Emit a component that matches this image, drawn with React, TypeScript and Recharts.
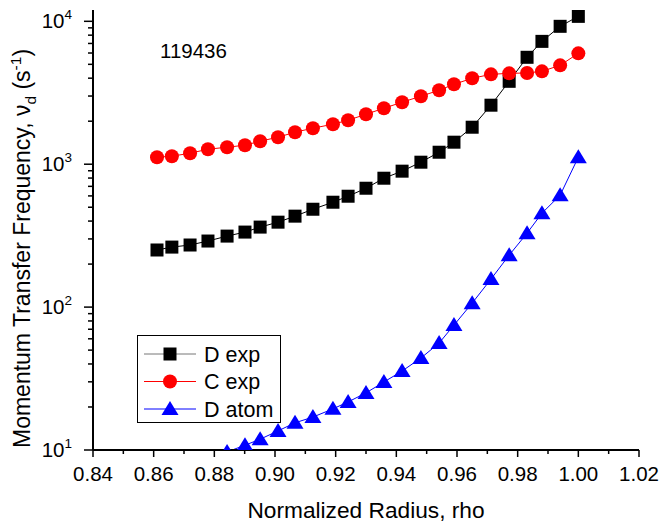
import { LineChart, Line, XAxis, YAxis, Customized } from "recharts";

const RHO = [
  0.8611, 0.866, 0.872, 0.8779, 0.8842, 0.8901, 0.8951, 0.901, 0.9066, 0.9125,
  0.9191, 0.9241, 0.93, 0.9359, 0.9419, 0.9481, 0.9541, 0.959, 0.965, 0.9712,
  0.9772, 0.9831, 0.988, 0.994, 1.0,
];

const D_EXP = [
  251, 263, 272, 290, 314, 335, 363, 393, 433, 484,
  542, 597, 679, 798, 894, 1033, 1213, 1426, 1815, 2588,
  3803, 5600, 7239, 9225, 10830,
];

const C_EXP = [
  1119, 1137, 1194, 1273, 1315, 1358, 1449, 1545, 1675, 1786,
  1905, 2031, 2237, 2465, 2715, 2991, 3293, 3625, 3992, 4256,
  4325, 4350, 4467, 4920, 5970,
];

const D_ATOM = [
  null, null, null, null, 9.7, 10.8, 11.9, 13.6, 15.5, 17.0,
  19.4, 21.7, 25.1, 29.9, 35.7, 44.0, 56.0, 74.8, 106.6, 157,
  231, 329, 454, 607, 1120,
];

const X_TICKS = [
  0.84, 0.85, 0.86, 0.87, 0.88, 0.89, 0.9, 0.91, 0.92, 0.93,
  0.94, 0.95, 0.96, 0.97, 0.98, 0.99, 1.0, 1.01, 1.02,
];
const Y_TICKS = [
  10, 20, 30, 40, 50, 60, 70, 80, 90,
  100, 200, 300, 400, 500, 600, 700, 800, 900,
  1000, 2000, 3000, 4000, 5000, 6000, 7000, 8000, 9000, 10000,
];

const SERIES = [
  { key: "dExp", label: "D exp", color: "#000000", legendLine: "#777777", shape: "square" },
  { key: "cExp", label: "C exp", color: "#ff0000", legendLine: "#ff0000", shape: "circle" },
  { key: "dAtom", label: "D atom", color: "#0000ff", legendLine: "#0000ff", shape: "triangle" },
] as const;

const data = RHO.map((rho, i) => ({
  rho,
  dExp: D_EXP[i],
  cExp: C_EXP[i],
  dAtom: D_ATOM[i],
}));

const FONT = "'Liberation Sans', Arial, sans-serif";

function Marker({ shape, cx, cy, color }: { shape: string; cx: number; cy: number; color: string }) {
  if (shape === "square") {
    return <rect x={cx - 6.5} y={cy - 6.5} width={13} height={13} fill={color} />;
  }
  if (shape === "circle") {
    return <circle cx={cx} cy={cy} r={7} fill={color} />;
  }
  return (
    <polygon
      points={`${cx},${cy - 8} ${cx + 8.5},${cy + 6} ${cx - 8.5},${cy + 6}`}
      fill={color}
    />
  );
}

function makeDot(shape: string, color: string) {
  return (props: any) => {
    const { cx, cy, index } = props;
    if (cx == null || cy == null || props.value == null) return <g key={index} />;
    return (
      <g key={index}>
        <Marker shape={shape} cx={cx} cy={cy} color={color} />
      </g>
    );
  };
}

function XTick(props: any) {
  const { x, y, payload } = props;
  const v = payload.value;
  const major = Math.round(v * 100) % 2 === 0;
  return (
    <g>
      <line x1={x} x2={x} y1={y} y2={y + (major ? 7 : 4)} stroke="#000" strokeWidth={1.5} />
      {major && (
        <text x={x} y={y + 31} textAnchor="middle" fontSize={20.5} fontFamily={FONT} fill="#000">
          {v.toFixed(2)}
        </text>
      )}
    </g>
  );
}

function YTick(props: any) {
  const { x, y, payload } = props;
  const v = payload.value;
  const exp = Math.log10(v);
  const major = Math.abs(exp - Math.round(exp)) < 1e-9;
  return (
    <g>
      <line x1={x - (major ? 9 : 5)} x2={x} y1={y} y2={y} stroke="#000" strokeWidth={1.5} />
      {major && (
        <text x={x - 21} y={y + 7} textAnchor="end" fontSize={20.5} fontFamily={FONT} fill="#000">
          10
          <tspan fontSize={13.5} dy={-9}>
            {Math.round(exp)}
          </tspan>
        </text>
      )}
    </g>
  );
}

function Extras() {
  return (
    <g fontFamily={FONT} fill="#000">
      <text x={160} y={58} fontSize={20.5}>
        119436
      </text>
      <text x={366} y={518} textAnchor="middle" fontSize={22.7}>
        Normalized Radius, rho
      </text>
      <text transform="translate(30, 448) rotate(-90)" fontSize={23}>
        Momentum Transfer Frequency, ν
        <tspan fontSize={15.5} dy={6}>d</tspan>
        <tspan dy={-6}> (s</tspan>
        <tspan fontSize={15.5} dy={-9}>-1</tspan>
        <tspan dy={9}>)</tspan>
      </text>
      <rect x={137.5} y={335.5} width={143} height={87} fill="#fff" stroke="#000" strokeWidth={1} />
      {SERIES.map((s, i) => {
        const cy = 354 + i * 27.5;
        return (
          <g key={s.key}>
            <line x1={144} x2={196} y1={cy} y2={cy} stroke={s.legendLine} strokeWidth={1} />
            <Marker shape={s.shape} cx={170} cy={cy} color={s.color} />
            <text x={204} y={cy + 7.5} fontSize={21.5}>
              {s.label}
            </text>
          </g>
        );
      })}
    </g>
  );
}

export default function App() {
  return (
    <div style={{ position: "absolute", left: 0, top: 0, background: "#fff" }}>
      <LineChart width={659} height={527} data={data} margin={{ top: 10, right: 20, bottom: 0, left: 0 }}>
        <XAxis
          dataKey="rho"
          type="number"
          domain={[0.84, 1.02]}
          ticks={X_TICKS}
          interval={0}
          height={77}
          tickSize={0}
          tickMargin={0}
          tickLine={false}
          tick={<XTick />}
          axisLine={{ stroke: "#000", strokeWidth: 2 }}
        />
        <YAxis
          scale="log"
          type="number"
          domain={[10, 12000]}
          allowDataOverflow
          ticks={Y_TICKS}
          interval={0}
          width={93}
          tickSize={0}
          tickMargin={0}
          tickLine={false}
          tick={<YTick />}
          axisLine={{ stroke: "#000", strokeWidth: 2 }}
        />
        {SERIES.map((s) => (
          <Line
            key={s.key}
            dataKey={s.key}
            stroke={s.color}
            strokeWidth={1}
            type="linear"
            dot={makeDot(s.shape, s.color)}
            activeDot={false}
            isAnimationActive={false}
          />
        ))}
        <Customized component={Extras} />
      </LineChart>
    </div>
  );
}
